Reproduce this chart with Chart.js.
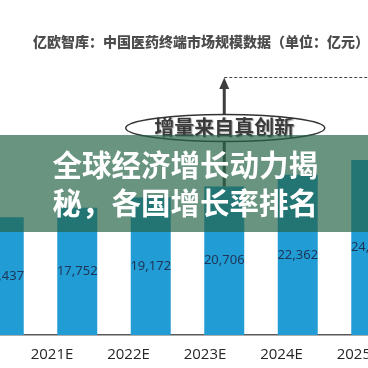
<!DOCTYPE html>
<html><head><meta charset="utf-8">
<script src="https://cdn.jsdelivr.net/npm/chart.js@4"></script>
<style>
html,body{margin:0;padding:0;background:#fff;overflow:hidden;}
#wrap{position:relative;width:368px;height:368px;overflow:hidden;background:#fff;}
#c{position:absolute;left:-33px;top:0;}
</style></head><body>
<div id="wrap"><canvas id="c" width="441" height="368"></canvas></div>
<script>
const categories = ['2020','2021E','2022E','2023E','2024E','2025E'];
const marketSize = [16437, 17752, 19172, 20706, 22362, 24420];
const tickLabels = ['2020','2021E','2022E','2023E','2024E','2025E'];
const chartTitle = '亿欧智库：中国医药终端市场规模数据（单位：亿元）';
const calloutText = '增量来自真创新';
const bannerLines = ['全球经济增长动力揭', '秘，各国增长率排名'];

const decor = {
  id: 'decor',
  afterDatasetsDraw(chart) {
    const ctx = chart.ctx;
    const meta = chart.getDatasetMeta(0);
    ctx.save();
    ctx.font = '13px "Noto Sans", "Open Sans", sans-serif';
    ctx.fillStyle = '#1d3557';
    ctx.textAlign = 'center';
    ctx.textBaseline = 'middle';
    meta.data.forEach((el, i) => {
      ctx.fillText(marketSize[i].toLocaleString('en-US'), el.x, (el.y + el.base) / 2);
    });
    ctx.restore();
  },
  afterDraw(chart) {
    const ctx = chart.ctx;
    const W = chart.width;
    const meta = chart.getDatasetMeta(0);
    const ax = meta.data[3].x;
    const barTop = meta.data[3].y;
    ctx.save();
    // title
    ctx.font = '900 14px "Noto Sans CJK SC", sans-serif';
    ctx.fillStyle = '#4d4d4d';
    ctx.textAlign = 'left';
    ctx.textBaseline = 'middle';
    ctx.fillText(chartTitle, 66, 42);
    // dashed level line
    ctx.strokeStyle = '#444';
    ctx.lineWidth = 1;
    ctx.setLineDash([3, 2]);
    ctx.beginPath(); ctx.moveTo(ax, 77.5); ctx.lineTo(W, 77.5); ctx.stroke();
    ctx.setLineDash([]);
    // arrow shaft
    ctx.strokeStyle = '#3d3d3d';
    ctx.lineWidth = 3;
    ctx.beginPath(); ctx.moveTo(ax, barTop); ctx.lineTo(ax, 87); ctx.stroke();
    ctx.fillStyle = '#3d3d3d';
    ctx.beginPath(); ctx.moveTo(ax, 77.5); ctx.lineTo(ax - 5, 89); ctx.lineTo(ax + 5, 89); ctx.closePath(); ctx.fill();
    // ellipse callout
    ctx.beginPath(); ctx.ellipse(ax + 1, 128, 99.5, 13.5, 0, 0, Math.PI * 2);
    ctx.fillStyle = '#fff'; ctx.fill();
    ctx.lineWidth = 1.5; ctx.strokeStyle = '#333'; ctx.stroke();
    ctx.font = 'bold 20px "Noto Sans CJK SC", sans-serif';
    ctx.fillStyle = '#3b3b3b';
    ctx.textAlign = 'center';
    ctx.shadowColor = 'rgba(0,0,0,0.35)';
    ctx.shadowBlur = 1; ctx.shadowOffsetX = 1; ctx.shadowOffsetY = 1;
    ctx.fillText(calloutText, ax, 127);
    ctx.shadowColor = 'transparent';
    // banner overlay
    ctx.fillStyle = 'rgba(36,100,71,0.69)';
    ctx.fillRect(0, 135, W, 97);
    ctx.font = 'bold 29.5px "Noto Sans CJK SC", sans-serif';
    ctx.fillStyle = '#ffffff';
    ctx.textAlign = 'left';
    ctx.textBaseline = 'middle';
    ctx.fillText(bannerLines[0], 85.5, 165);
    ctx.fillText(bannerLines[1], 85.5, 203);
    ctx.restore();
  }
};

new Chart(document.getElementById('c'), {
  type: 'bar',
  data: {
    labels: categories,
    datasets: [{
      data: marketSize,
      backgroundColor: '#229CD4',
      borderWidth: 0,
      categoryPercentage: 1,
      barPercentage: 0.544
    }]
  },
  options: {
    responsive: false,
    animation: false,
    devicePixelRatio: 1,
    layout: { padding: { top: 60, bottom: 1, left: 0, right: 0 }, autoPadding: false },
    plugins: { legend: { display: false }, title: { display: false }, tooltip: { enabled: false } },
    scales: {
      x: { display: false, offset: true },
      x2: {
        type: 'linear', position: 'bottom', min: -0.1111, max: 5.6536, offset: false, bounds: 'data',
        grid: { display: false, offset: false },
        border: { display: true, color: '#5a5a5a', width: 1.5 },
        afterBuildTicks: (axis) => {
          // the first category's label falls outside the cropped view; keep only in-view ticks
          axis.ticks = tickLabels.map((t, i) => ({ value: i })).filter(t => t.value > axis.min + 0.5);
        },
        ticks: {
          autoSkip: false, padding: 3, color: '#262626',
          font: { family: '"Open Sans", "Noto Sans", sans-serif', size: 15 },
          callback: (v) => tickLabels[v]
        }
      },
      y: { display: false, min: 0, max: 38350 }
    }
  },
  plugins: [decor]
});
</script>
</body></html>
